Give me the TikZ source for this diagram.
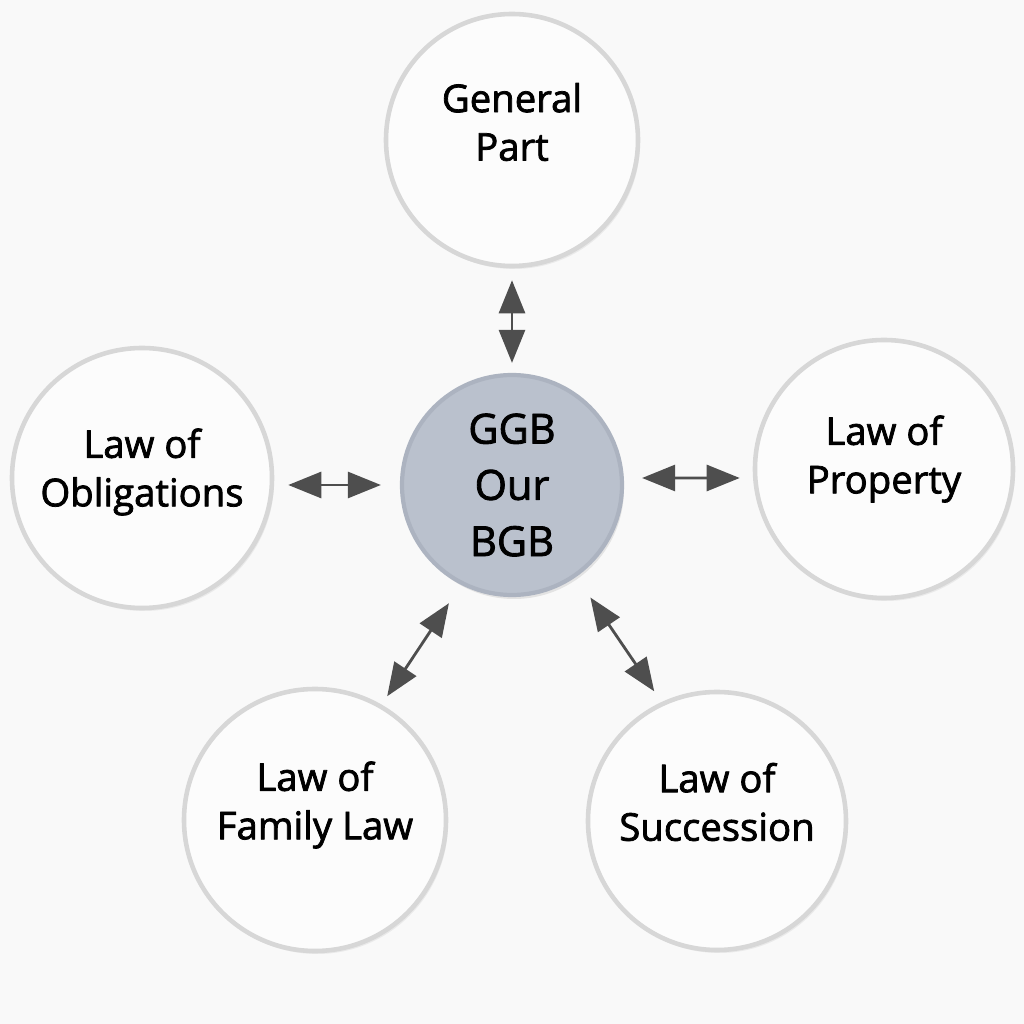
\documentclass[tikz,border=0pt]{standalone}
\usepackage{fontspec}
\setmainfont{Open Sans}
\newfontfamily\lawfont[FakeBold=2]{Open Sans}
\usetikzlibrary{arrows.meta,shadows}

\definecolor{paper}{RGB}{249,249,249}
\definecolor{discedge}{RGB}{215,215,215}
\definecolor{discfill}{RGB}{252,252,252}
\definecolor{hubfill}{RGB}{186,193,205}
\definecolor{hubedge}{RGB}{172,179,192}
\definecolor{arrowgray}{RGB}{78,78,78}

\begin{document}
\begin{tikzpicture}[line cap=round, line join=round,
    disc/.style={circle, draw=discedge, line width=1.3pt, fill=discfill,
      drop shadow={opacity=0.12, shadow xshift=0.02cm, shadow yshift=-0.03cm}},
    hub/.style={circle, draw=hubedge, line width=1.2pt, fill=hubfill,
      minimum size=2.2cm,
      drop shadow={opacity=0.18, shadow xshift=0.02cm, shadow yshift=-0.04cm}},
    lbl/.style={align=center, text=black, font=\lawfont\fontsize{10.9}{13.8}\selectfont},
    link/.style={{Triangle[length=0.33cm,width=0.26cm]}-{Triangle[length=0.33cm,width=0.26cm]},
      draw=arrowgray, fill=arrowgray, line width=0.8pt}]

  % Page
  \fill[paper] (0,0) rectangle (10.24,10.24);
  \useasboundingbox (0,0) rectangle (10.24,10.24);

  % Hub
  \node[hub] (ggb) at (5.12,5.39) {};
  \node[align=center, text=black, font=\lawfont\fontsize{11.8}{16}\selectfont] (ggbtxt)
    at (ggb.center) {GGB\\Our\\BGB};

  % Books around the hub
  \node[disc, minimum size=2.52cm] (gen) at (5.12,8.84) {};
  \node[disc, minimum size=2.58cm] (prop) at (8.84,5.55) {};
  \node[disc, minimum size=2.60cm] (obl) at (1.42,5.46) {};
  \node[disc, minimum size=2.62cm] (fam) at (3.15,2.04) {};
  \node[disc, minimum size=2.58cm] (suc) at (7.17,2.03) {};

  % Labels (sit a little above the centres)
  \node[lbl] (gentxt) at ([yshift=0.18cm]gen.center) {General\\Part};
  \node[lbl] (proptxt) at ([yshift=0.10cm]prop.center) {Law of\\Property};
  \node[lbl] (obltxt) at ([yshift=0.06cm]obl.center) {Law of\\Obligations};
  \node[lbl] (famtxt) at ([yshift=0.15cm]fam.center) {Law of\\Family Law};
  \node[lbl] (suctxt) at ([yshift=0.19cm]suc.center) {Law of\\Succession};

  % Two-way arrows
  \draw[link, shorten <=0.10cm, shorten >=0.12cm] (ggb.90) -- (gen.-90);
  \draw[link, shorten <=0.19cm, shorten >=0.14cm] (ggb.west) -- (ggb.west -| obl.east);
  \draw[link, shorten <=0.18cm, shorten >=0.13cm] ([yshift=0.07cm]ggb.east) -- ([yshift=-0.09cm]prop.west);
  \draw[link, shorten <=0.22cm, shorten >=0.10cm] (ggb.-117) -- (fam.60);
  \draw[link, shorten <=0.25cm, shorten >=0.13cm] (ggb.-55) -- (suc.115);

\end{tikzpicture}
\end{document}
